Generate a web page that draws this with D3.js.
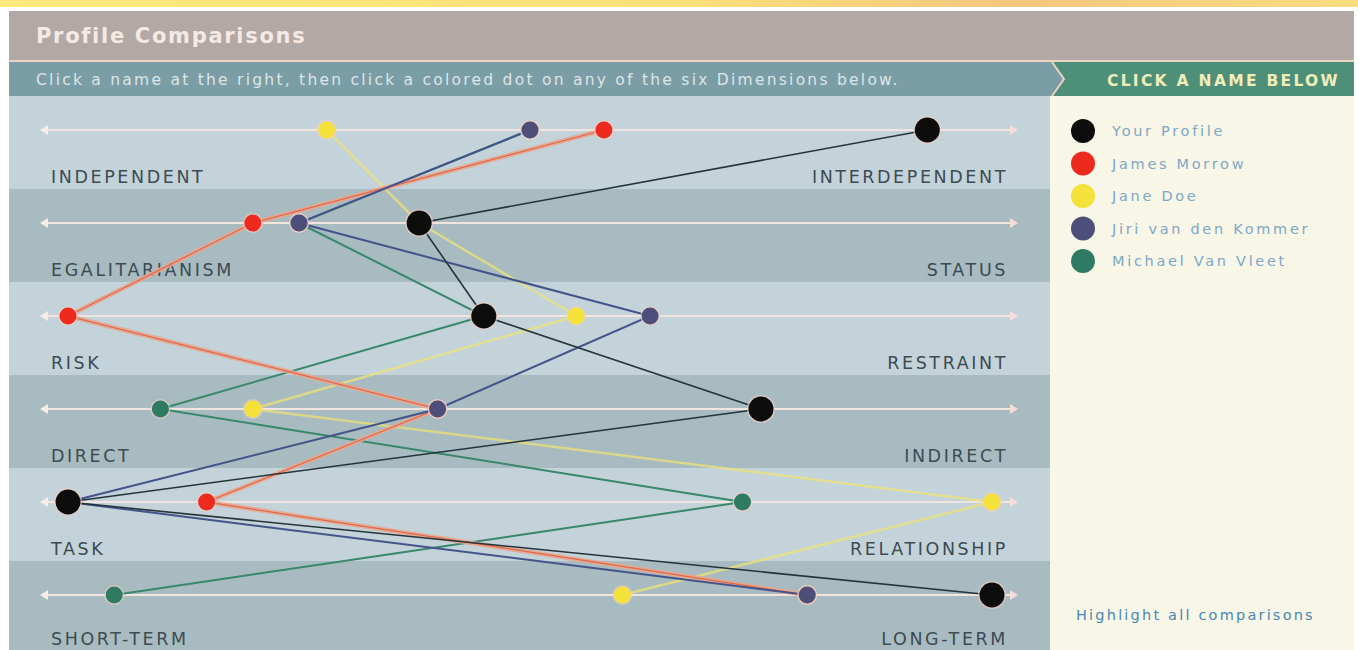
<!DOCTYPE html>
<html><head><meta charset="utf-8">
<script src="https://cdn.jsdelivr.net/npm/d3@7"></script>
<style>
html,body{margin:0;padding:0;background:#fff;}
svg{display:block;}
</style></head>
<body>
<svg id="chart" width="1358" height="650"></svg>
<script>
// ---- data ----
const dimensionsLeft  = ["INDEPENDENT","EGALITARIANISM","RISK","DIRECT","TASK","SHORT-TERM"];
const dimensionsRight = ["INTERDEPENDENT","STATUS","RESTRAINT","INDIRECT","RELATIONSHIP","LONG-TERM"];
const personNames  = ["Your Profile","James Morrow","Jane Doe","Jiri van den Kommer","Michael Van Vleet"];
const yourProfile  = [93, 38, 45, 75, 0, 100];
const jamesMorrow  = [58, 20, 0, 40, 15, 80];
const janeDoe      = [28, 38, 55, 20, 100, 60];
const jiriKommer   = [50, 25, 63, 40, 0, 80];
const michaelVleet = [50, 25, 45, 10, 73, 5];
const personColors = ["#0d0d0d","#ee2a1e","#f4e23a","#4d4f7a","#2f7a62"];
const titleText = "Profile Comparisons";
const instructionText = "Click a name at the right, then click a colored dot on any of the six Dimensions below.";
const buttonText = "CLICK A NAME BELOW";
const highlightText = "Highlight all comparisons";

const series = [yourProfile, jamesMorrow, janeDoe, jiriKommer, michaelVleet];

const svg = d3.select("#chart");
const defs = svg.append("defs");
const tg = defs.append("linearGradient").attr("id","topg").attr("x1","0").attr("x2","1");
tg.append("stop").attr("offset","0").attr("stop-color","#fde97c");
tg.append("stop").attr("offset","0.5").attr("stop-color","#fbe07a");
tg.append("stop").attr("offset","0.75").attr("stop-color","#f3c77e");
tg.append("stop").attr("offset","1").attr("stop-color","#f9dc80");
svg.append("rect").attr("x",0).attr("y",0).attr("width",1358).attr("height",7).attr("fill","url(#topg)");

// header
svg.append("rect").attr("x",9).attr("y",11).attr("width",1345).attr("height",50).attr("fill","#b2a9a6");
svg.append("text").attr("x",36).attr("y",43).text(titleText)
  .attr("font-family","DejaVu Sans").attr("font-weight","bold").attr("font-size",21).attr("letter-spacing",1.7).attr("fill","#f6e9e4");
svg.append("rect").attr("x",9).attr("y",60).attr("width",1345).attr("height",2).attr("fill","#ecd3c4");
svg.append("rect").attr("x",9).attr("y",62).attr("width",1345).attr("height",34).attr("fill","#7b9da6");
svg.append("text").attr("x",36).attr("y",85).text(instructionText)
  .attr("font-family","DejaVu Sans").attr("font-size",15.5).attr("letter-spacing",2.25).attr("fill","#dde6e6");
// green button with chevron
svg.append("path").attr("d","M1052,62 L1354,62 L1354,96 L1052,96 L1064,79 Z").attr("fill","#4d8f78");
svg.append("path").attr("d","M1052,62 L1064,79 L1052,96").attr("fill","none").attr("stroke","#ecd3c4").attr("stroke-width",2);
svg.append("text").attr("x",1340).attr("y",86).attr("text-anchor","end").text(buttonText)
  .attr("font-family","DejaVu Sans").attr("font-weight","bold").attr("font-size",15.5).attr("fill","#f1edb8").attr("letter-spacing",2.3);

// chart area
const band = d3.scaleBand().domain(d3.range(dimensionsLeft.length)).range([96, 654]);
const x = d3.scaleLinear().domain([0,100]).range([68, 992]);
const rowG = svg.append("g");
dimensionsLeft.forEach((d,i)=>{
  rowG.append("rect").attr("x",9).attr("y",band(i)).attr("width",1041).attr("height",band.bandwidth())
    .attr("fill", i%2===0 ? "#c3d3d9" : "#a7bbc1");
});
const axisY = i => band(i) + 34;
// axis lines
dimensionsLeft.forEach((d,i)=>{
  const y = axisY(i);
  const ly = i === dimensionsLeft.length-1 ? y+50 : y+53;
  rowG.append("line").attr("x1",46).attr("x2",1012).attr("y1",y).attr("y2",y)
    .attr("stroke","#f2e4df").attr("stroke-width",2);
  rowG.append("path").attr("d",`M40,${y} L48,${y-5} L48,${y+5} Z`).attr("fill","#f7ece8");
  rowG.append("path").attr("d",`M1018,${y} L1010,${y-5} L1010,${y+5} Z`).attr("fill","#f7ddd8");
  rowG.append("text").attr("x",51).attr("y",ly).text(d)
    .attr("font-family","DejaVu Sans").attr("font-size",17.5).attr("letter-spacing",2.6).attr("fill","#3d4b52");
  rowG.append("text").attr("x",1008).attr("y",ly).attr("text-anchor","end").text(dimensionsRight[i])
    .attr("font-family","DejaVu Sans").attr("font-size",17.5).attr("letter-spacing",2.6).attr("fill","#3d4b52");
});

// lines
const line = d3.line().x(d=>x(d.v)).y(d=>axisY(d.i));
const drawOrder = [2,4,1,3,0];
const lineG = svg.append("g");
drawOrder.forEach(p=>{
  const pts = series[p].map((v,i)=>({v,i}));
  if(p===1){
    lineG.append("path").attr("d",line(pts)).attr("fill","none").attr("stroke","#eaa58d").attr("stroke-width",4.5).attr("opacity",0.9);
    lineG.append("path").attr("d",line(pts)).attr("fill","none").attr("stroke","#d9593c").attr("stroke-width",1.2).attr("opacity",0.8);
  } else if(p===2){
    lineG.append("path").attr("d",line(pts)).attr("fill","none").attr("stroke","#ece27a").attr("stroke-width",2.5).attr("opacity",0.75);
  } else if(p===0){
    lineG.append("path").attr("d",line(pts)).attr("fill","none").attr("stroke","#25343a").attr("stroke-width",1.6);
  } else if(p===3){
    lineG.append("path").attr("d",line(pts)).attr("fill","none").attr("stroke","#44548a").attr("stroke-width",2);
  } else {
    lineG.append("path").attr("d",line(pts)).attr("fill","none").attr("stroke","#3a876c").attr("stroke-width",2);
  }
});
// dots
const dotOrder = [4,2,1,3,0];
dotOrder.forEach(p=>{
  series[p].forEach((v,i)=>{
    const r = p===0 ? 12.5 : 8.5;
    svg.append("circle").attr("cx",x(v)).attr("cy",axisY(i)).attr("r",r+1.5).attr("fill","#f3cfc4").attr("opacity",0.6);
    svg.append("circle").attr("cx",x(v)).attr("cy",axisY(i)).attr("r",r).attr("fill",personColors[p]);
  });
});

// right panel
svg.append("rect").attr("x",1050).attr("y",96).attr("width",1304).attr("height",554).attr("fill","#f8f6e6");
svg.append("rect").attr("x",1354).attr("y",96).attr("width",4).attr("height",554).attr("fill","#fff");
const leg = svg.append("g");
personNames.forEach((n,i)=>{
  const y = 131 + i*32.5;
  leg.append("circle").attr("cx",1083).attr("cy",y).attr("r",12).attr("fill",personColors[i]);
  leg.append("text").attr("x",1112).attr("y",y+5).text(n)
    .attr("font-family","DejaVu Sans").attr("font-size",14.5).attr("letter-spacing",2.7).attr("fill","#7ea8c6");
});
svg.append("text").attr("x",1076).attr("y",620).text(highlightText)
  .attr("font-family","DejaVu Sans").attr("font-size",14.5).attr("letter-spacing",2.2).attr("fill","#4a88b4");
</script>
</body></html>
